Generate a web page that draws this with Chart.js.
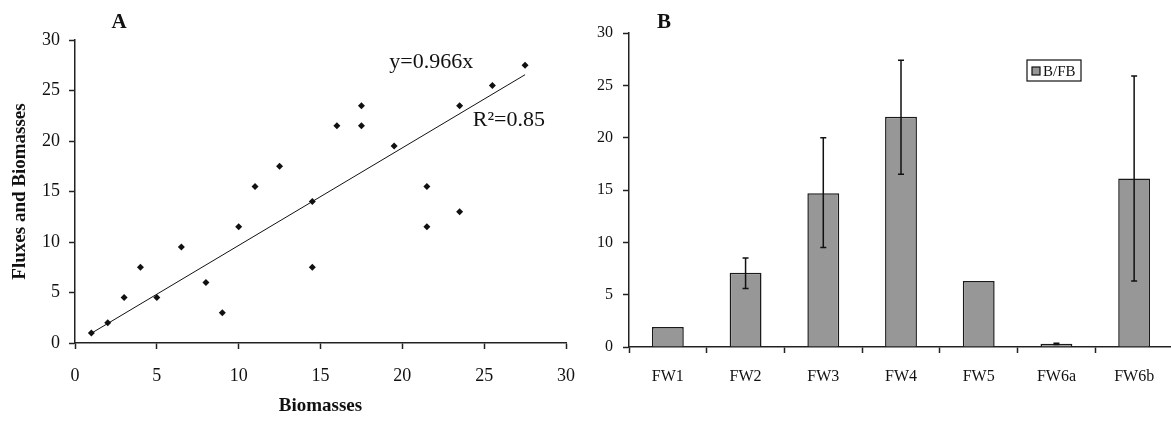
<!DOCTYPE html>
<html lang="en">
<head>
  <meta charset="UTF-8">
  <title>Biomasses and B/FB</title>
  <script src="https://cdn.jsdelivr.net/npm/chart.js"></script>
  <style>
    body { margin: 0; background: #fff; overflow: hidden; width: 1171px; height: 421px; }
    #left { position: absolute; left: 0; top: 0; }
    #right { position: absolute; left: 575px; top: 0; }
  </style>
</head>
<body>
  <canvas id="left" width="591" height="421"></canvas>
  <canvas id="right" width="600" height="421"></canvas>

  <script>
    // panel A: biomass vs fluxes and biomasses
    const biomassX = [1, 2, 3, 4, 5, 6.5, 8, 9, 10, 11, 12.5, 14.5, 14.5, 16, 17.5, 17.5, 19.5, 21.5, 21.5, 23.5, 23.5, 25.5, 27.5];
    const fluxY = [1, 2, 4.5, 7.5, 4.5, 9.5, 6, 3, 11.5, 15.5, 17.5, 14, 7.5, 21.5, 23.5, 21.5, 19.5, 15.5, 11.5, 23.5, 13, 25.5, 27.5];
    const slope = 0.966;
    const fitRange = [1, 27.5];
    const axisTicksA = [0, 5, 10, 15, 20, 25, 30];

    // panel B: B/FB per food web
    const foodWebs = ["FW1", "FW2", "FW3", "FW4", "FW5", "FW6a", "FW6b"];
    const bfb = [1.9, 7.1, 14.7, 22.0, 6.3, 0.3, 16.1];
    const errHigh = [null, 8.5, 20.0, 27.4, null, 0.35, 25.9];
    const errLow = [null, 5.6, 9.5, 16.5, null, 0.25, 6.3];

    const serif = "'Liberation Serif', 'DejaVu Serif', serif";
    const ink = "#111";

    // panel letter and equation text
    const labelsA = {
      id: "labelsA",
      afterDraw(chart) {
        const { ctx, scales } = chart;
        ctx.save();
        ctx.fillStyle = ink;
        ctx.font = "bold 21px " + serif;
        ctx.textAlign = "center";
        ctx.textBaseline = "alphabetic";
        ctx.fillText("A", 119, 28);
        ctx.font = "22px " + serif;
        ctx.textAlign = "left";
        ctx.textBaseline = "middle";
        ctx.fillText("y=0.966x", scales.x.getPixelForValue(19.2), scales.y.getPixelForValue(27.8));
        ctx.fillText("R\u00B2=0.85", scales.x.getPixelForValue(24.3), scales.y.getPixelForValue(22.1));
        ctx.restore();
      }
    };

    new Chart(document.getElementById("left"), {
      data: {
        datasets: [
          {
            type: "scatter",
            data: biomassX.map((x, i) => ({ x: x, y: fluxY[i] })),
            pointStyle: "rectRot",
            pointRadius: 3.5,
            backgroundColor: ink,
            borderColor: ink,
            borderWidth: 0,
          },
          {
            type: "line",
            data: fitRange.map(x => ({ x: x, y: slope * x })),
            borderColor: ink,
            borderWidth: 1,
            pointRadius: 0,
            fill: false,
          },
        ],
      },
      options: {
        responsive: false,
        animation: false,
        layout: { padding: { top: 40, right: 0, left: 0, bottom: 0 } },
        plugins: { legend: { display: false }, tooltip: { enabled: false } },
        scales: {
          x: {
            type: "linear",
            min: 0, max: 30,
            afterBuildTicks: s => { s.ticks = axisTicksA.map(v => ({ value: v })); },
            afterFit: s => { s.height = 78; },
            grid: { drawOnChartArea: false, tickLength: 6, color: "#222", tickWidth: 1.5 },
            border: { color: "#222", width: 1.5 },
            ticks: { color: ink, font: { family: serif, size: 18 }, padding: 16, maxRotation: 0 },
            title: { display: true, text: "Biomasses", color: ink, font: { family: serif, size: 19, weight: "bold" }, padding: { top: 4 } },
          },
          y: {
            min: 0, max: 30,
            afterBuildTicks: s => { s.ticks = axisTicksA.map(v => ({ value: v })); },
            afterFit: s => { s.width = 75; },
            grid: { drawOnChartArea: false, tickLength: 6, color: "#222", tickWidth: 1.5 },
            border: { color: "#222", width: 1.5 },
            ticks: { color: ink, font: { family: serif, size: 18 }, padding: 9 },
            title: { display: true, text: "Fluxes and Biomasses", color: ink, font: { family: serif, size: 19, weight: "bold" }, padding: { top: 9, bottom: 0 } },
          },
        },
      },
      plugins: [labelsA],
    });

    // error bars, legend box and panel letter for B
    const extrasB = {
      id: "extrasB",
      afterDatasetsDraw(chart) {
        const { ctx, scales } = chart;
        const meta = chart.getDatasetMeta(0);
        ctx.save();
        ctx.strokeStyle = ink;
        ctx.lineWidth = 1.5;
        meta.data.forEach((bar, i) => {
          if (errHigh[i] == null) return;
          const yTop = scales.y.getPixelForValue(errHigh[i]);
          const yBot = scales.y.getPixelForValue(errLow[i]);
          ctx.beginPath();
          ctx.moveTo(bar.x, yTop); ctx.lineTo(bar.x, yBot);
          ctx.moveTo(bar.x - 3, yTop); ctx.lineTo(bar.x + 3, yTop);
          ctx.moveTo(bar.x - 3, yBot); ctx.lineTo(bar.x + 3, yBot);
          ctx.stroke();
        });
        ctx.restore();
      },
      afterDraw(chart) {
        const { ctx } = chart;
        const ds = chart.data.datasets[0];
        ctx.save();
        ctx.fillStyle = ink;
        ctx.font = "bold 21px " + serif;
        ctx.textAlign = "center";
        ctx.fillText("B", 89, 28);
        // legend
        const lx = 452, ly = 60;
        ctx.fillStyle = "#fff";
        ctx.fillRect(lx, ly, 54, 21);
        ctx.strokeStyle = ink;
        ctx.lineWidth = 1.2;
        ctx.strokeRect(lx, ly, 54, 21);
        ctx.fillStyle = ds.backgroundColor;
        ctx.fillRect(lx + 5, ly + 7, 8, 8);
        ctx.strokeRect(lx + 5, ly + 7, 8, 8);
        ctx.fillStyle = ink;
        ctx.font = "15px " + serif;
        ctx.textAlign = "left";
        ctx.textBaseline = "middle";
        ctx.fillText(ds.label, lx + 16, ly + 12);
        ctx.restore();
      }
    };

    new Chart(document.getElementById("right"), {
      type: "bar",
      data: {
        labels: foodWebs,
        datasets: [
          {
            label: "B/FB",
            data: bfb,
            backgroundColor: "#979797",
            borderColor: "#1a1a1a",
            borderWidth: 1.5,
            barPercentage: 0.82,
            categoryPercentage: 0.5,
          },
        ],
      },
      options: {
        responsive: false,
        animation: false,
        layout: { padding: { top: 33, right: 2, left: 0, bottom: 0 } },
        plugins: { legend: { display: false }, tooltip: { enabled: false } },
        scales: {
          x: {
            afterFit: s => { s.height = 74; },
            grid: { drawOnChartArea: false, offset: true, tickLength: 6, color: "#222", tickWidth: 1.5 },
            border: { color: "#222", width: 1.5 },
            ticks: { color: ink, font: { family: serif, size: 16 }, padding: 14 },
          },
          y: {
            min: 0, max: 30,
            ticks: { stepSize: 5, color: ink, font: { family: serif, size: 16 }, padding: 10 },
            afterFit: s => { s.width = 54; },
            grid: { drawOnChartArea: false, tickLength: 6, color: "#222", tickWidth: 1.5 },
            border: { color: "#222", width: 1.5 },
          },
        },
      },
      plugins: [extrasB],
    });
  </script>
</body>
</html>
